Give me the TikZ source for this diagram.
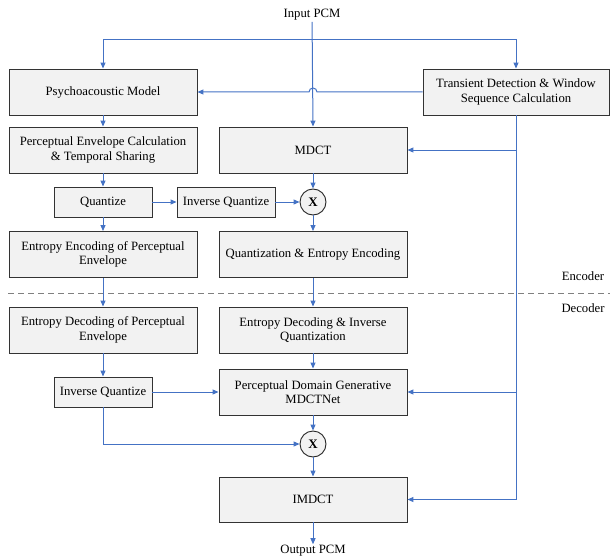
\documentclass[tikz,border=0pt]{standalone}
\usepackage{fontspec}
\setmainfont{Liberation Serif}
\usetikzlibrary{arrows.meta}
\definecolor{lineblue}{RGB}{68,114,196}
\definecolor{boxfill}{RGB}{242,242,242}
\begin{document}
\begin{tikzpicture}[x=1pt,y=-1pt,
  font=\fontsize{12.7}{14.3}\selectfont,
  box/.style={draw=black!80, line width=0.9pt, fill=boxfill, minimum width=188pt, minimum height=46pt, align=center, inner sep=2pt},
  sbox/.style={box, minimum width=98pt, minimum height=30pt},
  mult/.style={circle, draw=black!85, line width=0.9pt, fill=boxfill, minimum size=26pt, inner sep=0pt, font=\fontsize{13}{14}\selectfont\bfseries},
  conn/.style={draw=lineblue, line width=1pt, -{Triangle[length=6pt,width=5pt]}},
  lbl/.style={inner sep=1pt}]
\useasboundingbox (0,0) rectangle (610,559);

% nodes
\node[lbl] (inpcm) at (312,15) {Input PCM};
\node[box] (psy) at (103,92) {Psychoacoustic Model};
\node[box, minimum width=186pt] (trans) at (516,92) {Transient Detection \& Window\\Sequence Calculation};
\node[box] (pec) at (103,150) {Perceptual Envelope Calculation\\\& Temporal Sharing};
\node[box] (mdct) at (313,150) {MDCT};
\node[sbox] (quant) at (103,202) {Quantize};
\node[sbox] (iq) at (226,202) {Inverse Quantize};
\node[mult] (x1) at (313,202) {X};
\node[box] (eeo) at (103,254.5) {Entropy Encoding of Perceptual\\Envelope};
\node[box] (qee) at (313,254.5) {Quantization \& Entropy Encoding};
\node[lbl] (enc) at (583,276) {Encoder};
\node[lbl] (dec) at (583,308) {Decoder};
\node[box] (edpe) at (103,330) {Entropy Decoding of Perceptual\\Envelope};
\node[box] (edq) at (313,330) {Entropy Decoding \& Inverse\\Quantization};
\node[sbox] (iq2) at (103,392) {Inverse Quantize};
\node[box] (pdg) at (313,392) {Perceptual Domain Generative\\MDCTNet};
\node[mult] (x2) at (313,444) {X};
\node[box, minimum height=45pt] (imdct) at (313,499.5) {IMDCT};
\node[lbl] (outpcm) at (313,551) {Output PCM};

% separator
\coordinate (dl) at (8,293);
\coordinate (dr) at (610,293);
\draw[draw=black!50, line width=1pt, dash pattern=on 6pt off 4pt] (dl) -- (dr);

% connectors
\coordinate (split) at (313,40);
\draw[conn] (inpcm) -- (mdct.north);
\draw[conn] (split) -| (psy.north);
\draw[conn] (split) -| (trans.north);
\draw[conn] (trans.west) -- (317,92) arc[start angle=0, delta angle=180, radius=4pt] -- (psy.east);
\draw[conn] (trans.south) |- (imdct.east);
\draw[conn] (trans.south |- mdct.east) -- (mdct.east);
\draw[conn] (trans.south |- pdg.east) -- (pdg.east);
\draw[conn] (psy) -- (pec);
\draw[conn] (pec) -- (quant);
\draw[conn] (quant) -- (iq);
\draw[conn] (iq) -- (x1);
\draw[conn] (mdct) -- (x1);
\draw[conn] (x1) -- (qee);
\draw[conn] (quant) -- (eeo);
\draw[conn] (eeo) -- (edpe);
\draw[conn] (qee) -- (edq);
\draw[conn] (edpe) -- (iq2);
\draw[conn] (edq) -- (pdg);
\draw[conn] (iq2) -- (pdg);
\draw[conn] (pdg) -- (x2);
\draw[conn] (iq2.south) |- (x2.west);
\draw[conn] (x2) -- (imdct);
\draw[conn] (imdct) -- (outpcm);
\end{tikzpicture}
\end{document}
